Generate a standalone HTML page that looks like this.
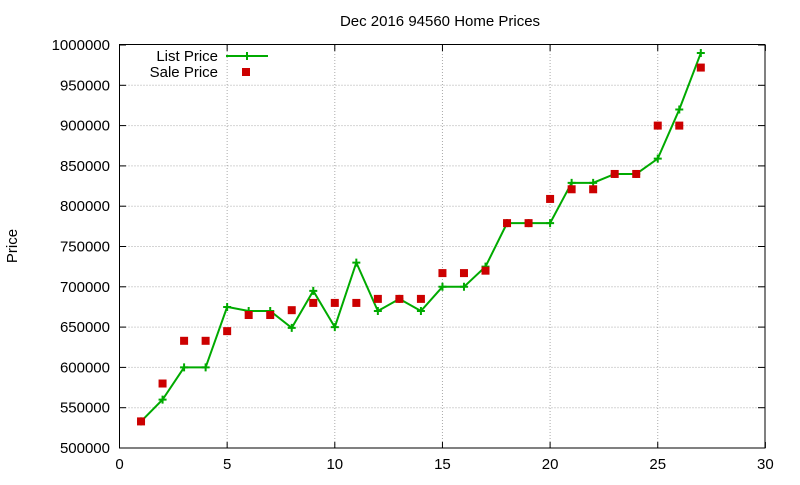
<!DOCTYPE html>
<html><head><meta charset="utf-8"><style>
body{margin:0;background:#fff}
svg text{font-family:"Liberation Sans",sans-serif;font-size:15px;fill:#000}
</style></head><body>
<svg id="s" width="800" height="480" xmlns="http://www.w3.org/2000/svg"></svg>
<script>
const s=document.getElementById('s');
const X0=119.5,XS=21.53,Y0=448,YS=40.3/50000;
const px=x=>X0+x*XS, py=y=>Y0-(y-500000)*YS;
let h='';
// grid
for(let i=1;i<6;i++){const x=px(i*5);h+=`<line x1="${x}" y1="45" x2="${x}" y2="448" stroke="#aaa" stroke-dasharray="1,2"/>`;}
for(let v=550000;v<1000000;v+=50000){const y=py(v);h+=`<line x1="119.5" y1="${y}" x2="765" y2="${y}" stroke="#aaa" stroke-dasharray="1,2"/>`;}
h+=`<rect x="119.5" y="44.5" width="645.5" height="403.5" fill="none" stroke="#000"/>`;
for(let i=0;i<=6;i++){const x=px(i*5);h+=`<line x1="${x}" y1="448" x2="${x}" y2="442" stroke="#000"/><line x1="${x}" y1="45" x2="${x}" y2="51" stroke="#000"/><text x="${x}" y="469" text-anchor="middle">${i*5}</text>`;}
for(let v=500000;v<=1000000;v+=50000){const y=py(v);h+=`<line x1="119.5" y1="${y}" x2="126" y2="${y}" stroke="#000"/><line x1="765" y1="${y}" x2="758" y2="${y}" stroke="#000"/><text x="110" y="${y+5}" text-anchor="end">${v}</text>`;}
h+=`<text x="440" y="26" text-anchor="middle">Dec 2016 94560 Home Prices</text>`;
h+=`<text x="17" y="246" text-anchor="middle" transform="rotate(-90 17 246)">Price</text>`;
const L=[533,560,600,600,675,670,670,649,695,650,730,670,685,670,700,700,725,779,779,779,829,829,840,840,859,920,990];
const S=[533,580,633,633,645,665,665,671,680,680,680,685,685,685,717,717,720,779,779,809,821,821,840,840,900,900,972];
let pts=L.map((v,i)=>px(i+1)+','+py(v*1000)).join(' ');
h+=`<polyline points="${pts}" fill="none" stroke="#0a0" stroke-width="2"/>`;
L.forEach((v,i)=>{const x=px(i+1),y=py(v*1000);h+=`<path d="M${x-4} ${y}H${x+4}M${x} ${y-4}V${y+4}" stroke="#0a0" stroke-width="2"/>`;});
S.forEach((v,i)=>{const x=px(i+1),y=py(v*1000);h+=`<rect x="${x-4}" y="${y-4}" width="8" height="8" fill="#c00"/>`;});
h+=`<text x="218" y="61" text-anchor="end">List Price</text><line x1="226" y1="56" x2="268" y2="56" stroke="#0a0" stroke-width="2"/><path d="M243 56H251M247 52V60" stroke="#0a0" stroke-width="2"/>`;
h+=`<text x="218" y="77" text-anchor="end">Sale Price</text><rect x="242" y="68" width="8" height="8" fill="#c00"/>`;
s.innerHTML=h;
</script>
</body></html>
